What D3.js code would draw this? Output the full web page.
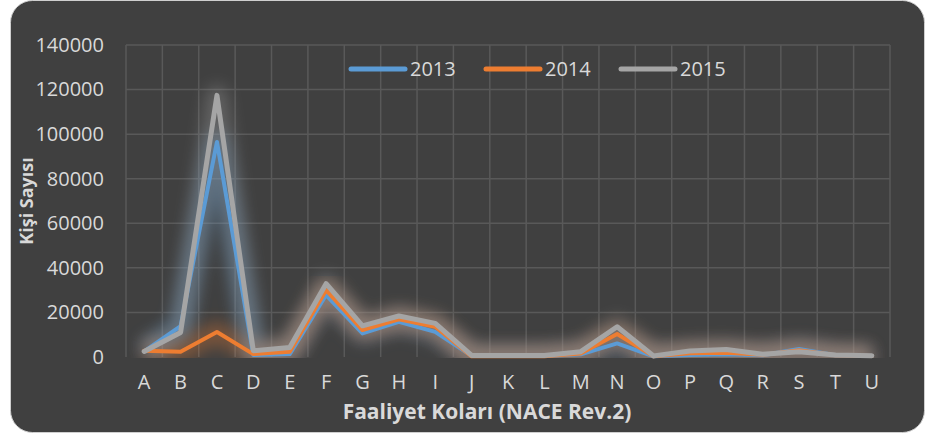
<!DOCTYPE html>
<html>
<head>
<meta charset="utf-8">
<script src="https://cdn.jsdelivr.net/npm/d3@7"></script>
<style>
  body { margin: 0; background: #ffffff; }
  text { font-family: "Open Sans", sans-serif; fill: #d9d9d9; }
</style>
</head>
<body>
<div id="chart"></div>
<script>
// categories (NACE Rev.2 sections)
var categories = ["A","B","C","D","E","F","G","H","I","J","K","L","M","N","O","P","Q","R","S","T","U"];
// series values
var v2013 = [2500, 13800, 96500, 900, 1300, 27800, 10600, 15800, 11300, 500, 500, 500, 1200, 6100, 300, 900, 1200, 800, 3600, 800, 500];
var v2014 = [2800, 2400, 11200, 1300, 2400, 30000, 12100, 16900, 13600, 300, 300, 300, 1600, 10300, 300, 1700, 1900, 1000, 3000, 800, 500];
var v2015 = [2500, 11000, 117400, 2800, 4300, 32900, 14000, 18400, 15100, 700, 700, 700, 2400, 13600, 500, 2700, 3400, 1200, 2400, 900, 600];
var yTicks = [0, 20000, 40000, 60000, 80000, 100000, 120000, 140000];

var series = [
  { name: "2013", values: v2013, color: "#5b9bd5", width: 4 },
  { name: "2014", values: v2014, color: "#ed7d31", width: 4 },
  { name: "2015", values: v2015, color: "#a5a5a5", width: 5 }
];

const dim = { width: 927, height: 436, left: 126, right: 890, top: 45, bottom: 357 };

var svg = d3.select("#chart").append("svg")
  .attr("width", dim.width)
  .attr("height", dim.height);

// glow filter
var defs = svg.append("defs");
defs.append("filter")
  .attr("id", "glow")
  .attr("x", "-20%").attr("y", "-20%")
  .attr("width", "140%").attr("height", "140%")
  .append("feGaussianBlur")
  .attr("stdDeviation", 8);

// chart background
svg.append("rect")
  .attr("x", 10.5).attr("y", 0.5)
  .attr("width", 914).attr("height", 432)
  .attr("rx", 22)
  .attr("fill", "#404040")
  .attr("stroke", "#cfcfcf")
  .attr("stroke-width", 1);

var x = d3.scaleBand()
  .domain(categories)
  .range([dim.left, dim.right]);

var y = d3.scaleLinear()
  .domain([0, 140000])
  .range([dim.bottom, dim.top]);

// gridlines
var grid = svg.append("g").attr("stroke", "#595959").attr("stroke-width", 1.5);
grid.selectAll("line.h")
  .data(yTicks.filter(function (d) { return d > 0; }))
  .enter().append("line")
  .attr("x1", dim.left).attr("x2", dim.right)
  .attr("y1", function (d) { return y(d); })
  .attr("y2", function (d) { return y(d); });
var bounds = categories.map(function (c) { return x(c); }).concat([dim.right]);
grid.selectAll("line.v")
  .data(bounds)
  .enter().append("line")
  .attr("x1", function (d) { return d; }).attr("x2", function (d) { return d; })
  .attr("y1", dim.top).attr("y2", dim.bottom);

// y axis labels
var yAxis = svg.append("g")
  .attr("transform", "translate(" + (dim.left - 22) + ",0)")
  .call(d3.axisLeft(y).tickValues(yTicks).tickSize(0).tickPadding(0).tickFormat(d3.format("d")));
yAxis.select(".domain").remove();
yAxis.selectAll("text")
  .style("font-size", "20px")
  .style("font-family", "Open Sans")
  .attr("fill", "#d9d9d9");

// x axis labels
var xAxis = svg.append("g")
  .attr("transform", "translate(0," + (dim.bottom + 18) + ")")
  .call(d3.axisBottom(x).tickSize(0).tickPadding(0));
xAxis.select(".domain").remove();
xAxis.selectAll("text")
  .style("font-size", "20px")
  .style("font-family", "Open Sans")
  .attr("fill", "#d9d9d9");

var line = d3.line()
  .x(function (d, i) { return x(categories[i]) + x.bandwidth() / 2; })
  .y(function (d) { return y(d); });

// glows
var clip = defs.append("clipPath").attr("id", "plotclip");
clip.append("rect").attr("x", dim.left - 20).attr("y", 0).attr("width", dim.right - dim.left + 40).attr("height", dim.bottom + 1);
var glowG = svg.append("g").attr("clip-path", "url(#plotclip)");
series.forEach(function (s) {
  glowG.append("path")
    .datum(s.values)
    .attr("d", line)
    .attr("fill", "none")
    .attr("stroke", s.color)
    .attr("stroke-width", 20)
    .attr("stroke-linejoin", "round")
    .attr("opacity", 0.35)
    .attr("filter", "url(#glow)");
});

// lines
series.forEach(function (s) {
  svg.append("path")
    .datum(s.values)
    .attr("d", line)
    .attr("fill", "none")
    .attr("stroke", s.color)
    .attr("stroke-width", s.width)
    .attr("stroke-linejoin", "round")
    .attr("stroke-linecap", "round");
});

// legend
var legendX = [351, 486, 621];
series.forEach(function (s, i) {
  var g = svg.append("g").attr("transform", "translate(" + legendX[i] + ",69)");
  g.append("line")
    .attr("x1", 0).attr("x2", 54)
    .attr("stroke", s.color)
    .attr("stroke-width", 5)
    .attr("stroke-linecap", "round");
  g.append("text")
    .attr("x", 59).attr("y", 7)
    .text(s.name)
    .style("font-size", "20px");
});

// axis titles
svg.append("text")
  .attr("text-anchor", "middle")
  .attr("transform", "translate(33," + ((dim.top + dim.bottom) / 2) + ") rotate(-90)")
  .text("Kişi Sayısı")
  .style("font-size", "18px")
  .style("font-weight", "bold");
svg.append("text")
  .attr("text-anchor", "middle")
  .attr("x", 487)
  .attr("y", 419)
  .text("Faaliyet Koları (NACE Rev.2)")
  .style("font-size", "21px")
  .style("font-weight", "bold");
</script>
</body>
</html>
